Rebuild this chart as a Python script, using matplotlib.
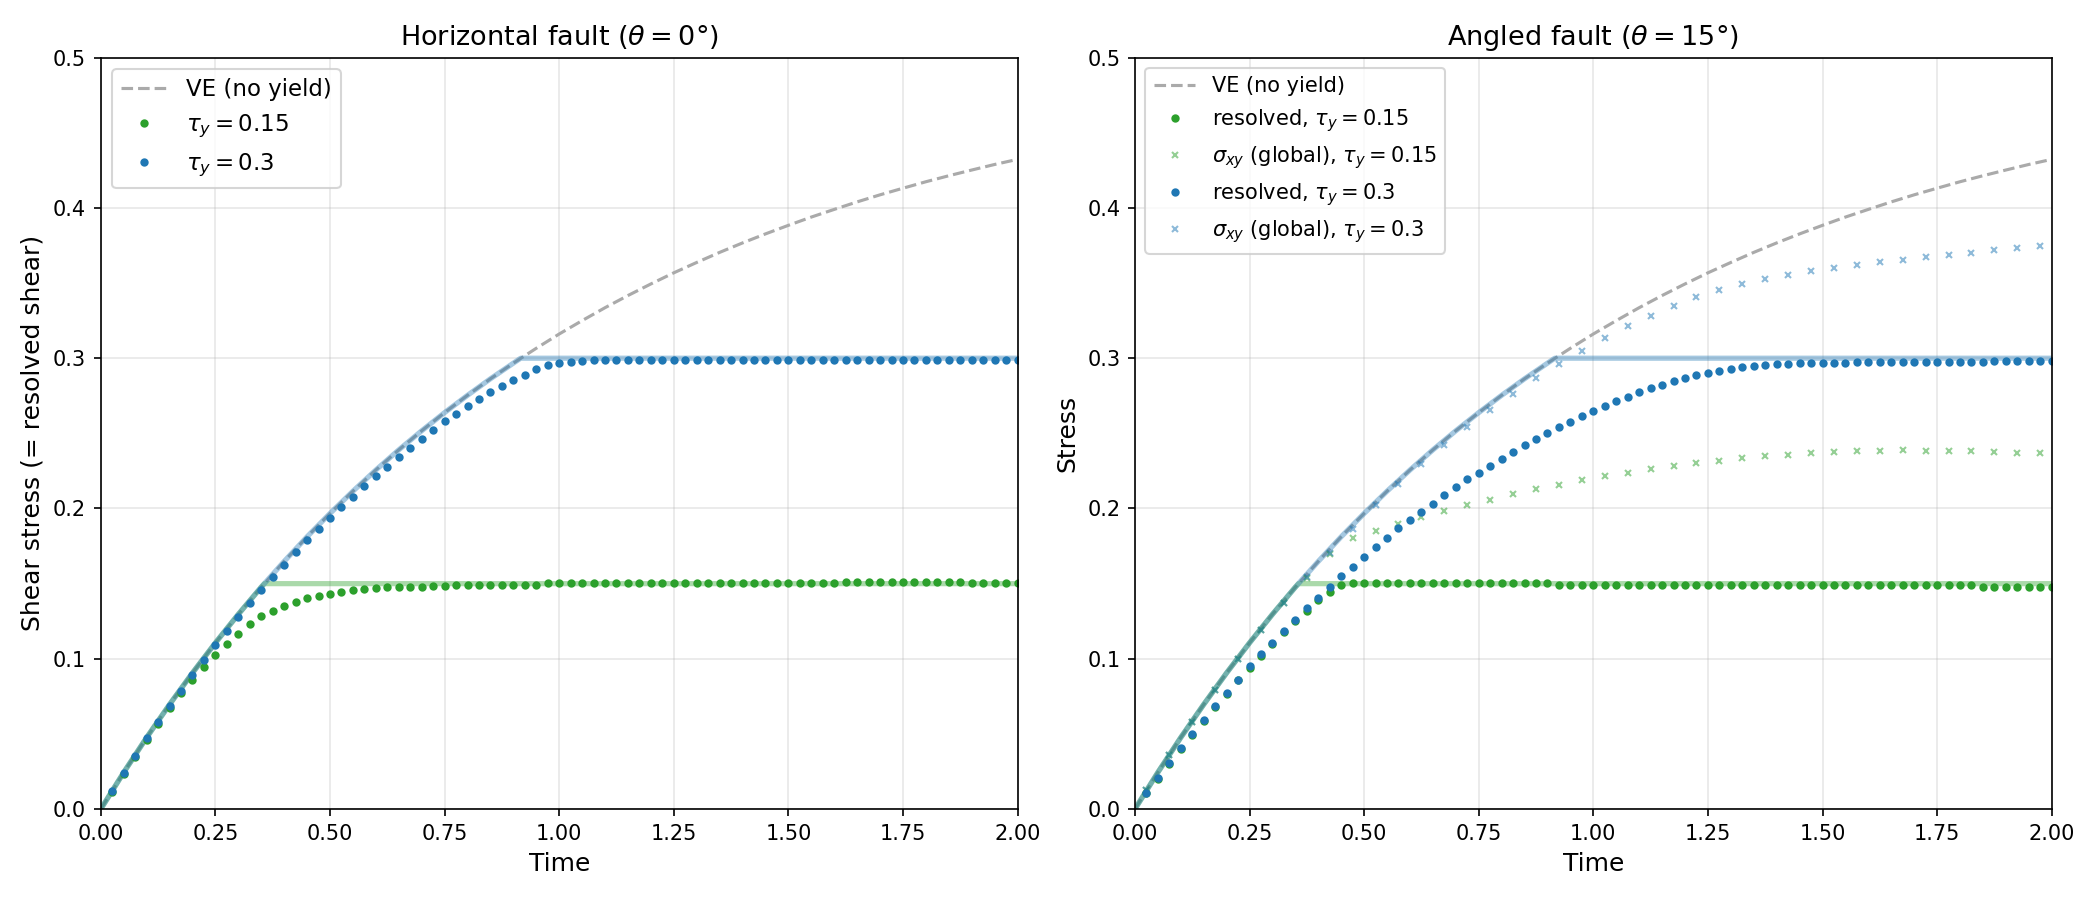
import numpy as np
import matplotlib
matplotlib.use("Agg")
import matplotlib.pyplot as plt

# time axes
VE_TIME = np.round(np.arange(0, 41) * 0.05, 3)
DOT_TIME = np.round(np.arange(1, 81) * 0.025, 3)
GLOBAL_TIME = np.round(0.025 + np.arange(0, 40) * 0.05, 3)

# viscoelastic reference (no yield)
VE_STRESS = [
    0.0000, 0.0244, 0.0476, 0.0696, 0.0906, 0.1106, 0.1296, 0.1477, 0.1648, 0.1812,
    0.1967, 0.2115, 0.2256, 0.2390, 0.2517, 0.2638, 0.2753, 0.2863, 0.2967, 0.3066,
    0.3161, 0.3250, 0.3336, 0.3417, 0.3494, 0.3568, 0.3637, 0.3704, 0.3767, 0.3827,
    0.3884, 0.3939, 0.3990, 0.4040, 0.4087, 0.4131, 0.4174, 0.4214, 0.4252, 0.4289,
    0.4323,
]

YIELD_LOW = 0.15
YIELD_HIGH = 0.3
KINK_LOW = 0.357
KINK_HIGH = 0.916

# horizontal fault
H_RESOLVED_015 = [
    0.0117, 0.0236, 0.0349, 0.0462, 0.0568, 0.0673, 0.0770, 0.0861, 0.0948, 0.1028,
    0.1101, 0.1168, 0.1230, 0.1283, 0.1321, 0.1354, 0.1381, 0.1407, 0.1421, 0.1434,
    0.1447, 0.1456, 0.1463, 0.1469, 0.1476, 0.1479, 0.1478, 0.1481, 0.1482, 0.1486,
    0.1488, 0.1490, 0.1494, 0.1494, 0.1494, 0.1494, 0.1494, 0.1494, 0.1503, 0.1503,
    0.1503, 0.1503, 0.1503, 0.1503, 0.1503, 0.1503, 0.1503, 0.1503, 0.1503, 0.1503,
    0.1503, 0.1503, 0.1503, 0.1503, 0.1503, 0.1503, 0.1503, 0.1503, 0.1503, 0.1503,
    0.1503, 0.1503, 0.1503, 0.1503, 0.1509, 0.1509, 0.1509, 0.1509, 0.1509, 0.1509,
    0.1509, 0.1509, 0.1509, 0.1509, 0.1509, 0.1502, 0.1502, 0.1502, 0.1502, 0.1502,
]
H_RESOLVED_03 = [
    0.0118, 0.0238, 0.0355, 0.0471, 0.0577, 0.0683, 0.0789, 0.0895, 0.0994, 0.1091,
    0.1188, 0.1281, 0.1370, 0.1457, 0.1541, 0.1627, 0.1708, 0.1788, 0.1863, 0.1940,
    0.2008, 0.2077, 0.2147, 0.2213, 0.2278, 0.2342, 0.2403, 0.2463, 0.2523, 0.2579,
    0.2630, 0.2684, 0.2731, 0.2775, 0.2817, 0.2857, 0.2891, 0.2927, 0.2953, 0.2971,
    0.2977, 0.2984, 0.2986, 0.2990, 0.2991, 0.2991, 0.2991, 0.2991, 0.2991, 0.2991,
    0.2991, 0.2991, 0.2991, 0.2991, 0.2991, 0.2991, 0.2991, 0.2991, 0.2991, 0.2991,
    0.2991, 0.2991, 0.2991, 0.2991, 0.2991, 0.2991, 0.2991, 0.2991, 0.2991, 0.2991,
    0.2991, 0.2991, 0.2991, 0.2991, 0.2991, 0.2991, 0.2991, 0.2991, 0.2991, 0.2991,
]

# angled fault
A_RESOLVED_015 = [
    0.0104, 0.0202, 0.0302, 0.0402, 0.0495, 0.0588, 0.0680, 0.0769, 0.0856, 0.0938,
    0.1016, 0.1097, 0.1177, 0.1253, 0.1321, 0.1388, 0.1446, 0.1488, 0.1501, 0.1501,
    0.1501, 0.1501, 0.1501, 0.1501, 0.1501, 0.1501, 0.1501, 0.1501, 0.1501, 0.1501,
    0.1501, 0.1501, 0.1501, 0.1501, 0.1501, 0.1501, 0.1494, 0.1494, 0.1494, 0.1494,
    0.1494, 0.1494, 0.1494, 0.1494, 0.1494, 0.1494, 0.1494, 0.1494, 0.1494, 0.1494,
    0.1494, 0.1494, 0.1494, 0.1494, 0.1494, 0.1494, 0.1494, 0.1488, 0.1488, 0.1488,
    0.1488, 0.1488, 0.1488, 0.1488, 0.1488, 0.1488, 0.1488, 0.1488, 0.1488, 0.1488,
    0.1488, 0.1488, 0.1488, 0.1481, 0.1481, 0.1481, 0.1481, 0.1481, 0.1481, 0.1481,
]
A_RESOLVED_03 = [
    0.0106, 0.0204, 0.0304, 0.0404, 0.0497, 0.0590, 0.0683, 0.0772, 0.0860, 0.0949,
    0.1029, 0.1102, 0.1182, 0.1259, 0.1335, 0.1406, 0.1481, 0.1548, 0.1614, 0.1674,
    0.1741, 0.1807, 0.1867, 0.1922, 0.1980, 0.2033, 0.2089, 0.2140, 0.2193, 0.2239,
    0.2286, 0.2332, 0.2378, 0.2425, 0.2465, 0.2503, 0.2544, 0.2578, 0.2616, 0.2650,
    0.2683, 0.2716, 0.2743, 0.2776, 0.2803, 0.2823, 0.2849, 0.2869, 0.2889, 0.2902,
    0.2916, 0.2929, 0.2942, 0.2949, 0.2956, 0.2962, 0.2962, 0.2969, 0.2969, 0.2969,
    0.2969, 0.2969, 0.2976, 0.2976, 0.2976, 0.2976, 0.2976, 0.2976, 0.2976, 0.2976,
    0.2976, 0.2976, 0.2976, 0.2976, 0.2982, 0.2982, 0.2982, 0.2982, 0.2982, 0.2982,
]
A_GLOBAL_015 = [
    0.0125, 0.0361, 0.0581, 0.0794, 0.1000, 0.1193, 0.1370, 0.1537, 0.1699, 0.1805,
    0.1849, 0.1898, 0.1942, 0.1984, 0.2024, 0.2058, 0.2096, 0.2129, 0.2155, 0.2188,
    0.2215, 0.2237, 0.2262, 0.2282, 0.2302, 0.2315, 0.2335, 0.2348, 0.2357, 0.2368,
    0.2375, 0.2381, 0.2381, 0.2388, 0.2381, 0.2381, 0.2381, 0.2375, 0.2368, 0.2368,
]
A_GLOBAL_03 = [
    0.0125, 0.0361, 0.0581, 0.0794, 0.1000, 0.1193, 0.1370, 0.1541, 0.1703, 0.1866,
    0.2020, 0.2164, 0.2297, 0.2424, 0.2541, 0.2654, 0.2762, 0.2867, 0.2959, 0.3047,
    0.3133, 0.3211, 0.3279, 0.3346, 0.3406, 0.3452, 0.3492, 0.3525, 0.3552, 0.3579,
    0.3601, 0.3619, 0.3639, 0.3652, 0.3672, 0.3685, 0.3698, 0.3718, 0.3732, 0.3745,
]

GREEN = "tab:green"
BLUE = "tab:blue"
VE_COLOR = "#aaaaaa"


def capped_curve(tau, kink):
    # VE curve until it reaches the yield stress, then flat
    ve = np.asarray(VE_STRESS)
    mask = VE_TIME < kink
    t = np.concatenate([VE_TIME[mask], [kink, 2.0]])
    s = np.concatenate([ve[mask], [tau, tau]])
    return t, s


def draw_reference(ax):
    ax.plot(VE_TIME, VE_STRESS, ls="--", color=VE_COLOR, lw=1.5, label="VE (no yield)")
    t, s = capped_curve(YIELD_LOW, KINK_LOW)
    ax.plot(t, s, color=GREEN, lw=2.5, alpha=0.4)
    t, s = capped_curve(YIELD_HIGH, KINK_HIGH)
    ax.plot(t, s, color=BLUE, lw=2.5, alpha=0.4)


def style_axes(ax, title, ylabel):
    ax.set_xlim(0, 2)
    ax.set_ylim(0, 0.5)
    ax.set_title(title, fontsize=13)
    ax.set_xlabel("Time", fontsize=12)
    ax.set_ylabel(ylabel, fontsize=12)
    ax.grid(True, alpha=0.3)


def main():
    fig, (ax1, ax2) = plt.subplots(1, 2, figsize=(14, 6), dpi=150)

    draw_reference(ax1)
    ax1.plot(DOT_TIME, H_RESOLVED_015, "o", ms=3, color=GREEN, label=r"$\tau_y = 0.15$")
    ax1.plot(DOT_TIME, H_RESOLVED_03, "o", ms=3, color=BLUE, label=r"$\tau_y = 0.3$")
    style_axes(ax1, r"Horizontal fault ($\theta = 0°$)", "Shear stress (= resolved shear)")
    ax1.legend(loc="upper left", fontsize=11)

    draw_reference(ax2)
    ax2.plot(DOT_TIME, A_RESOLVED_015, "o", ms=3, color=GREEN,
             label=r"resolved, $\tau_y = 0.15$")
    ax2.plot(GLOBAL_TIME, A_GLOBAL_015, "x", ms=3, color=GREEN, alpha=0.5,
             label=r"$\sigma_{xy}$ (global), $\tau_y = 0.15$")
    ax2.plot(DOT_TIME, A_RESOLVED_03, "o", ms=3, color=BLUE,
             label=r"resolved, $\tau_y = 0.3$")
    ax2.plot(GLOBAL_TIME, A_GLOBAL_03, "x", ms=3, color=BLUE, alpha=0.5,
             label=r"$\sigma_{xy}$ (global), $\tau_y = 0.3$")
    style_axes(ax2, r"Angled fault ($\theta = 15°$)", "Stress")
    ax2.legend(loc="upper left", fontsize=10)

    fig.subplots_adjust(left=0.048, right=0.977, bottom=0.101, top=0.936, wspace=0.128)
    fig.savefig("out.png", dpi=150)


if __name__ == "__main__":
    main()
